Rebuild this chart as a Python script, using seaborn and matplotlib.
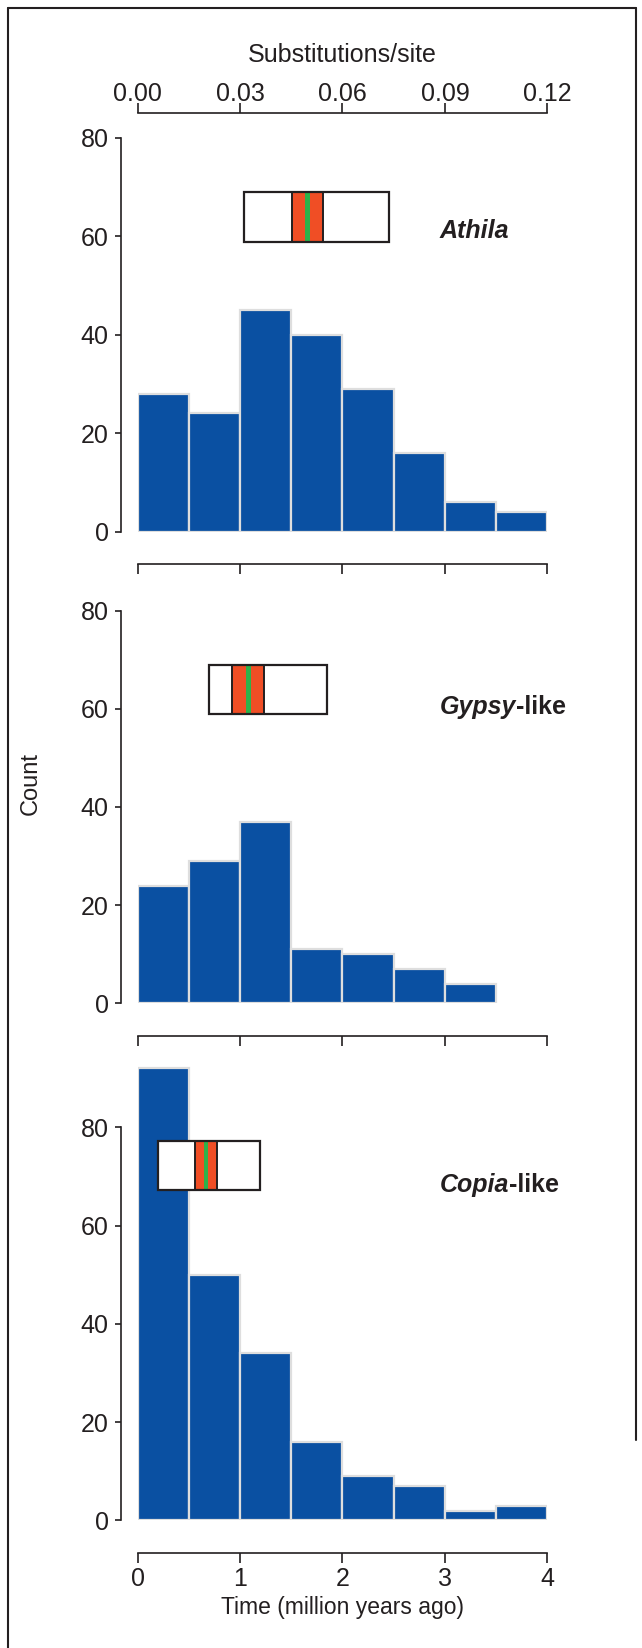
import matplotlib
matplotlib.use("Agg")
import matplotlib.pyplot as plt
from matplotlib.lines import Line2D
import numpy as np
import seaborn as sns

# Age distributions of LTR retrotransposon families (counts per 0.5 Myr bin)
bin_edges = [0.0, 0.5, 1.0, 1.5, 2.0, 2.5, 3.0, 3.5, 4.0]
athila_counts = [28, 24, 45, 40, 29, 16, 6, 4]
gypsy_counts = [24, 29, 37, 11, 10, 7, 4, 0]
copia_counts = [92, 50, 34, 16, 9, 7, 2, 3]

# Summary boxes: outer range, inner interval, centre line, vertical extent
athila_box = dict(outer=(1.04, 2.45), inner=(1.51, 1.81), mid=1.656, y=(58.9, 68.9))
gypsy_box = dict(outer=(0.70, 1.85), inner=(0.924, 1.237), mid=1.081, y=(58.9, 69.0))
copia_box = dict(outer=(0.196, 1.195), inner=(0.56, 0.772), mid=0.668, y=(67.3, 77.3))

family_names = [("Athila", ""), ("Gypsy", "-like"), ("Copia", "-like")]
label_y = [61, 60.4, 68.3]

time_ticks = [0, 1, 2, 3, 4]
count_ticks = [0, 20, 40, 60, 80]
subst_ticks = [0.00, 0.03, 0.06, 0.09, 0.12]
myr_to_subst = 0.03

sns.set_style("ticks")
plt.rcParams["font.family"] = ["Liberation Sans", "DejaVu Sans"]
ink = "#231f20"
plt.rcParams.update({
    "axes.edgecolor": ink, "xtick.color": ink, "ytick.color": ink,
    "text.color": ink, "axes.labelcolor": ink,
})

bar_color = "#0a50a2"
red = "#f04e25"
green = "#2db24a"

W, H = 642, 1648
fig = plt.figure(figsize=(W / 100, H / 100), dpi=100)

x0_px, x1_px = 137.6, 547.4
panels = [
    # (zero line px, 80 line px, ylim top)
    (531.7, 137.6, 80),
    (1003.4, 610.5, 80),
    (1520.4, 1127.4, 93),
]
datasets = [athila_counts, gypsy_counts, copia_counts]
boxes = [athila_box, gypsy_box, copia_box]

centers = [(a + b) / 2 for a, b in zip(bin_edges[:-1], bin_edges[1:])]
axes = []
for i, ((y0, y80, ytop), counts, box) in enumerate(zip(panels, datasets, boxes)):
    ppu = (y0 - y80) / 80
    top_px = y0 - ytop * ppu
    ax = fig.add_axes([x0_px / W, 1 - y0 / H, (x1_px - x0_px) / W, (y0 - top_px) / H])
    axes.append(ax)
    sns.histplot(x=centers, weights=counts, bins=bin_edges, ax=ax,
                 color=bar_color, edgecolor="#dedede", linewidth=1.6, alpha=1)
    # empty bins are left undrawn
    for p in ax.patches:
        if p.get_height() == 0:
            p.set_visible(False)
    ax.set_xlim(0, 4)
    ax.set_ylim(0, ytop)
    ax.set_ylabel("")
    ax.set_xlabel("")
    ax.set_xticks(time_ticks)
    ax.set_yticks(count_ticks)
    for s in ("top", "right"):
        ax.spines[s].set_visible(False)
    ax.spines["left"].set_position(("outward", 12.2))
    ax.spines["bottom"].set_position(("outward", 23.4))
    ax.spines["left"].set_bounds(0, 80)
    ax.spines["bottom"].set_bounds(0, 4)
    for s in ("left", "bottom"):
        ax.spines[s].set_linewidth(1.2)
    ax.tick_params(axis="y", length=4.5, width=1.2, pad=4, labelsize=18)
    ax.tick_params(axis="x", length=7, width=1.2, pad=3, labelsize=18)
    if i < 2:
        ax.tick_params(axis="x", labelbottom=False)

    # summary box
    yb, yt = box["y"]
    h = yt - yb
    yc = (yb + yt) / 2
    ax.barh(yc, box["outer"][1] - box["outer"][0], left=box["outer"][0], height=h,
            color="white", edgecolor="none", zorder=4)
    ax.barh(yc, box["inner"][1] - box["inner"][0], left=box["inner"][0], height=h,
            color=red, edgecolor="none", zorder=5)
    ax.barh(yc, 0.045, left=box["mid"] - 0.0225, height=h, color=green,
            edgecolor="none", zorder=6)
    for xe in box["inner"]:
        ax.plot([xe, xe], [yb, yt], color=ink, lw=1.4, zorder=7)
    ax.barh(yc, box["outer"][1] - box["outer"][0], left=box["outer"][0], height=h,
            facecolor="none", edgecolor=ink, linewidth=1.6, zorder=8)

    # family label
    name, suffix = family_names[i]
    t = ax.text(2.95, label_y[i], name, fontsize=18, fontweight="bold",
                fontstyle="italic", ha="left", va="center", zorder=9)
    if suffix:
        ax.annotate(suffix, xy=(1, 0), xycoords=t, fontsize=18, fontweight="bold",
                    ha="left", va="bottom")

# substitution scale above the first panel
top_ax = axes[0]
sec = top_ax.secondary_xaxis(1 + 25 / (531.7 - 137.6),
                             functions=(lambda x: x * myr_to_subst,
                                        lambda s: s / myr_to_subst))
sec.set_xticks(subst_ticks)
sec.set_xticklabels([f"{v:.2f}" for v in subst_ticks])
sec.tick_params(axis="x", length=7, width=1.2, pad=-2.5, labelsize=18)
sec.spines["top"].set_linewidth(1.2)
sec.set_xlabel("Substitutions/site", fontsize=18, labelpad=15)

axes[2].set_xlabel("Time (million years ago)", fontsize=16.5, labelpad=4)
fig.text(30.5 / W, 1 - 783 / H, "Count", rotation=90, fontsize=17,
         ha="center", va="center")

# frame around the figure
frame_kw = dict(color=ink, lw=1.5, transform=fig.transFigure)
fig.add_artist(Line2D([7.5 / W, 7.5 / W], [0, 1 - 7.5 / H], **frame_kw))
fig.add_artist(Line2D([7.5 / W, 635.5 / W], [1 - 7.5 / H, 1 - 7.5 / H], **frame_kw))
fig.add_artist(Line2D([635.5 / W, 635.5 / W], [1 - 7.5 / H, 1 - 1440 / H], **frame_kw))

fig.savefig("out.png", dpi=100)
